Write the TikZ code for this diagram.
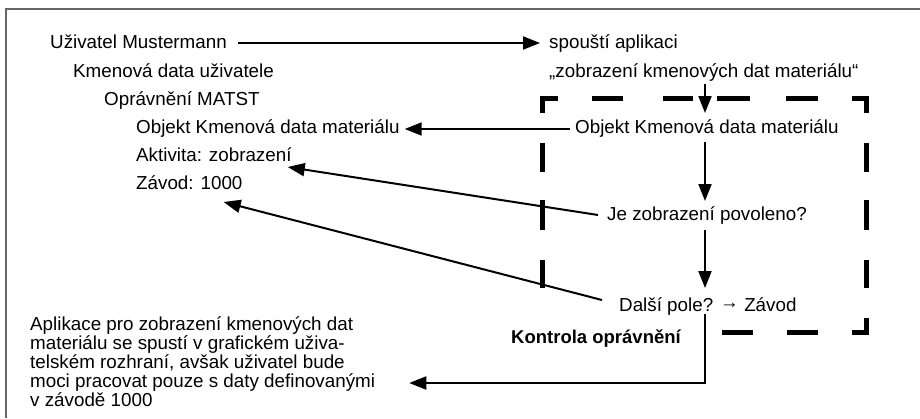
\documentclass[tikz,border=0pt]{standalone}
\usepackage{fontspec}
\setmainfont{Liberation Sans}
\usetikzlibrary{arrows.meta,calc}
\begin{document}
\begin{tikzpicture}[x=1pt,y=-1pt,
  txt/.style={anchor=base west, inner sep=0pt, font=\fontsize{18.8}{19}\selectfont},
  arr/.style={line width=2pt, -{Triangle[length=17pt,width=13pt]}},
  dsh/.style={line width=5pt, line cap=butt, line join=miter},
  frame/.style={line width=2pt, draw=black!60}]
\useasboundingbox (0,0) rectangle (920,418);
\draw[frame] (6,418) -- (6,9) -- (920,9);
% dashed check box
\def\L{542.5}\def\R{866.5}\def\T{98.5}\def\B{332.5}
\draw[dsh] (\L,113) -- (\L,\T) -- (558,\T);
\draw[dsh] (592,\T) -- (623,\T) (663,\T) -- (693,\T) (717,\T) -- (750,\T) (786,\T) -- (818,\T);
\draw[dsh] (852,\T) -- (\R,\T) -- (\R,113);
\draw[dsh] (\L,143) -- (\L,172) (\L,200) -- (\L,230) (\L,260) -- (\L,288);
\draw[dsh] (\R,143) -- (\R,172) (\R,200) -- (\R,230) (\R,260) -- (\R,288);
\draw[dsh] (\R,318) -- (\R,\B) -- (852,\B);
\draw[dsh] (722,\B) -- (753,\B) (787,\B) -- (818,\B);
% left column
\node[txt] (u)  at (50,48)  {Uživatel Mustermann};
\node[txt] (k)  at (73,77)  {Kmenová data uživatele};
\node[txt] (o)  at (104,105) {Oprávnění MATST};
\node[txt] (ol) at (136,133) {Objekt Kmenová data materiálu};
\node[txt] (a)  at (136,161) {Aktivita: zobrazení};
\node[txt] (z)  at (136,189) {Závod: 1000};
% right column
\node[txt] (s)  at (549,48)  {spouští aplikaci};
\node[txt] (q)  at (549,77)  {„zobrazení kmenových dat materiálu“};
\node[txt] (or) at (575,133) {Objekt Kmenová data materiálu};
\node[txt] (je) at (607,220) {Je zobrazení povoleno?};
\node[txt] (dp) at (619,311) {Další pole? \raisebox{3pt}{→} Závod};
\node[txt, font=\fontsize{18.5}{19}\selectfont\bfseries] (ko) at (511,343) {Kontrola oprávnění};
\node[txt, align=left] (p) at (30,406) {Aplikace pro zobrazení kmenových dat\\materiálu se spustí v grafickém uživa-\\telském rozhraní, avšak uživatel bude\\moci pracovat pouze s daty definovanými\\v závodě 1000};
\coordinate (vx) at (705,0);
% connectors
\draw[arr] ($(u.base east)+(11,-5)$) -- ($(s.base west)+(-9,-5)$);
\draw[arr] ($(q.base -| vx)+(0,7)$) -- ($(or.base -| vx)+(0,-20)$);
\draw[arr] ($(or.base -| vx)+(0,9)$) -- ($(je.base -| vx)+(0,-19)$);
\draw[arr] ($(je.base -| vx)+(0,10)$) -- ($(dp.base -| vx)+(0,-23)$);
\draw[arr] ($(or.base west)+(-5,-4)$) -- ($(ol.base east)+(5,-4)$);
\draw[arr] ($(je.base west)+(-9,-5)$) -- ($(a.base east)+(-4,6)$);
\draw[arr] ($(dp.base west)+(-17,-11)$) -- ($(z.base east)+(-19,13)$);
\draw[arr] ($(dp.base -| vx)+(0,3)$) |- ($(p.base east)+(34,-23)$);
\end{tikzpicture}
\end{document}
